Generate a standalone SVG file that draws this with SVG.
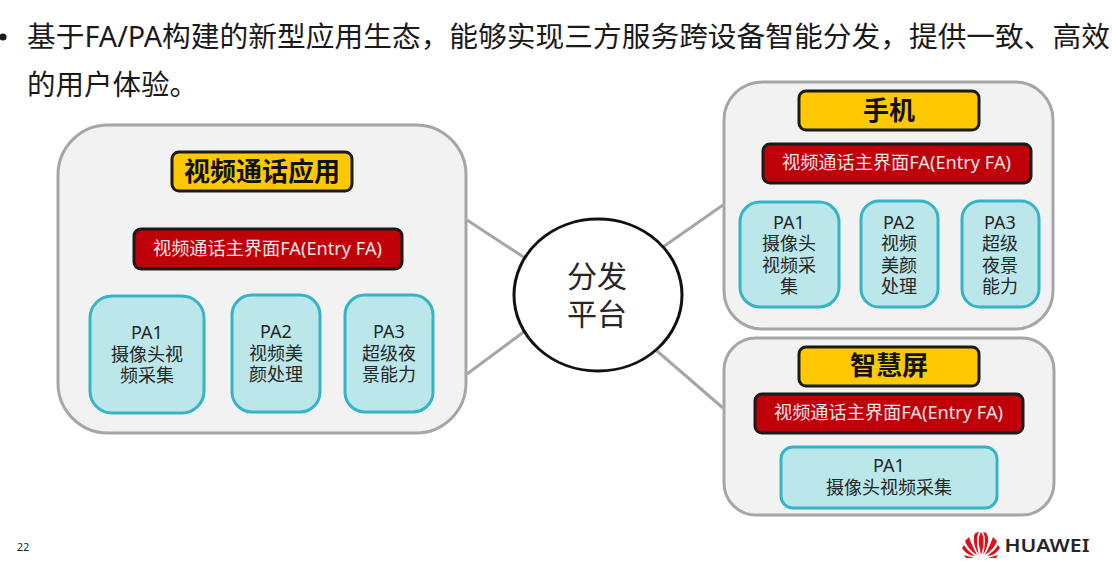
<svg xmlns="http://www.w3.org/2000/svg" width="1112" height="564" viewBox="0 0 1112 564">
<style>
text{font-family:"Noto Sans","Noto Sans CJK SC",sans-serif;text-anchor:middle;fill:#262626}
.panel{fill:#f2f2f2;stroke:#a6a6a6;stroke-width:3}
.title{fill:#ffc800;stroke:#1a1a1a;stroke-width:3}
.fa{fill:#c00008;stroke:#1a1a1a;stroke-width:3}
.pa{fill:#bbe7ea;stroke:#35b4c6;stroke-width:3}
.tt{font-size:26px;font-weight:700;fill:#111}
.ft{font-size:18.200px;fill:#f6e6e6}
.pt{font-size:18px}
.head{font-size:28.500px;text-anchor:start;fill:#1a1a1a}
line{stroke:#a6a6a6;stroke-width:3}
</style>
<rect width="1112" height="564" fill="#fff"/>
<g id="heading">
<circle cx="3" cy="37" r="3.600" fill="#1a1a1a"/>
<text class="head" x="27" y="47" textLength="1083" lengthAdjust="spacingAndGlyphs">基于FA/PA构建的新型应用生态，能够实现三方服务跨设备智能分发，提供一致、高效</text>
<text class="head" x="27" y="95">的用户体验。</text>
</g>
<g id="connectors">
<line x1="467" y1="220" x2="525" y2="258"/>
<line x1="467" y1="374" x2="525" y2="331"/>
<line x1="663" y1="247" x2="723" y2="205"/>
<line x1="657" y1="351" x2="723" y2="408"/>
</g>
<g id="app">
<rect class="panel" x="58" y="125" width="408" height="308" rx="50"/>
<g id="app-title"><rect class="title" x="172" y="152" width="180" height="39" rx="7"/><text class="tt" x="262" y="181">视频通话应用</text></g>
<g id="app-fa"><rect class="fa" x="134" y="229" width="268" height="40" rx="7"/><text class="ft" x="267.500" y="255">视频通话主界面FA(Entry FA)</text></g>
<g id="app-pa1"><rect class="pa" x="90" y="296" width="114" height="117" rx="22"/><text class="pt" x="147" y="339">PA1<tspan x="147" dy="22">摄像头视</tspan><tspan x="147" dy="21">频采集</tspan></text></g>
<g id="app-pa2"><rect class="pa" x="232" y="295" width="88" height="117" rx="20"/><text class="pt" x="276" y="338">PA2<tspan x="276" dy="22">视频美</tspan><tspan x="276" dy="21">颜处理</tspan></text></g>
<g id="app-pa3"><rect class="pa" x="345" y="295" width="88" height="117" rx="20"/><text class="pt" x="389" y="338">PA3<tspan x="389" dy="22">超级夜</tspan><tspan x="389" dy="21">景能力</tspan></text></g>
</g>
<g id="platform">
<ellipse cx="598" cy="295" rx="84" ry="76" fill="#fff" stroke="#111" stroke-width="3"/>
<text x="597" y="287" font-size="30" fill="#262626">分发<tspan x="597" dy="38">平台</tspan></text>
</g>
<g id="phone">
<rect class="panel" x="724" y="82" width="329" height="247" rx="38"/>
<g id="phone-title"><rect class="title" x="799" y="91" width="180" height="39" rx="7"/><text class="tt" x="889" y="120">手机</text></g>
<g id="phone-fa"><rect class="fa" x="763" y="144" width="268" height="39" rx="7"/><text class="ft" x="896.500" y="169">视频通话主界面FA(Entry FA)</text></g>
<g id="phone-pa1"><rect class="pa" x="740" y="202" width="99" height="105" rx="20"/><text class="pt" x="789" y="229">PA1<tspan x="789" dy="21">摄像头</tspan><tspan x="789" dy="22">视频采</tspan><tspan x="789" dy="21">集</tspan></text></g>
<g id="phone-pa2"><rect class="pa" x="861" y="201" width="77" height="106" rx="18"/><text class="pt" x="899" y="229">PA2<tspan x="899" dy="21">视频</tspan><tspan x="899" dy="22">美颜</tspan><tspan x="899" dy="21">处理</tspan></text></g>
<g id="phone-pa3"><rect class="pa" x="962" y="201" width="77" height="106" rx="18"/><text class="pt" x="1000" y="229">PA3<tspan x="1000" dy="21">超级</tspan><tspan x="1000" dy="22">夜景</tspan><tspan x="1000" dy="21">能力</tspan></text></g>
</g>
<g id="screen">
<rect class="panel" x="724" y="338" width="330" height="177" rx="32"/>
<g id="screen-title"><rect class="title" x="799" y="347" width="180" height="39" rx="7"/><text class="tt" x="889" y="375">智慧屏</text></g>
<g id="screen-fa"><rect class="fa" x="755" y="394" width="268" height="39" rx="7"/><text class="ft" x="888.500" y="419">视频通话主界面FA(Entry FA)</text></g>
<g id="screen-pa1"><rect class="pa" x="781" y="447" width="216" height="61" rx="12"/><text class="pt" x="889" y="472">PA1<tspan x="889" dy="22">摄像头视频采集</tspan></text></g>
</g>
<g id="footer">
<text x="23" y="551" font-size="11">22</text>
<g id="logo" fill="#d8141c">
<path d="M981 555l-2-10c-1-5 0-10 2-13 4 5 3 15 0 23zM983 555c2-8 3-18 0-23 4 0 4 3 5 5 1 6-2 13-5 18zM979 555c-3-5-6-12-5-18 0-2 1-5 5-5-3 5-2 15 0 23z"/>
<path d="M977 555c-5-3-10-8-12-14l4-4c2 6 5 12 8 18zM985 555c3-6 6-12 8-18l4 4c-2 6-7 11-12 14zM975 556c-5 0-10-3-13-8l2-3c3 5 7 8 11 11zM987 556c4-3 8-6 11-11l2 3c-3 5-8 8-13 8zM974 558h-8l-2-3c3 1 7 2 10 3zM988 558c3-1 7-2 10-3l-2 3z"/>
</g>
<text x="1047" y="552" font-size="17.500" font-weight="600" fill="#333" textLength="85" lengthAdjust="spacingAndGlyphs">HUAWEI</text>
</g>
</svg>
